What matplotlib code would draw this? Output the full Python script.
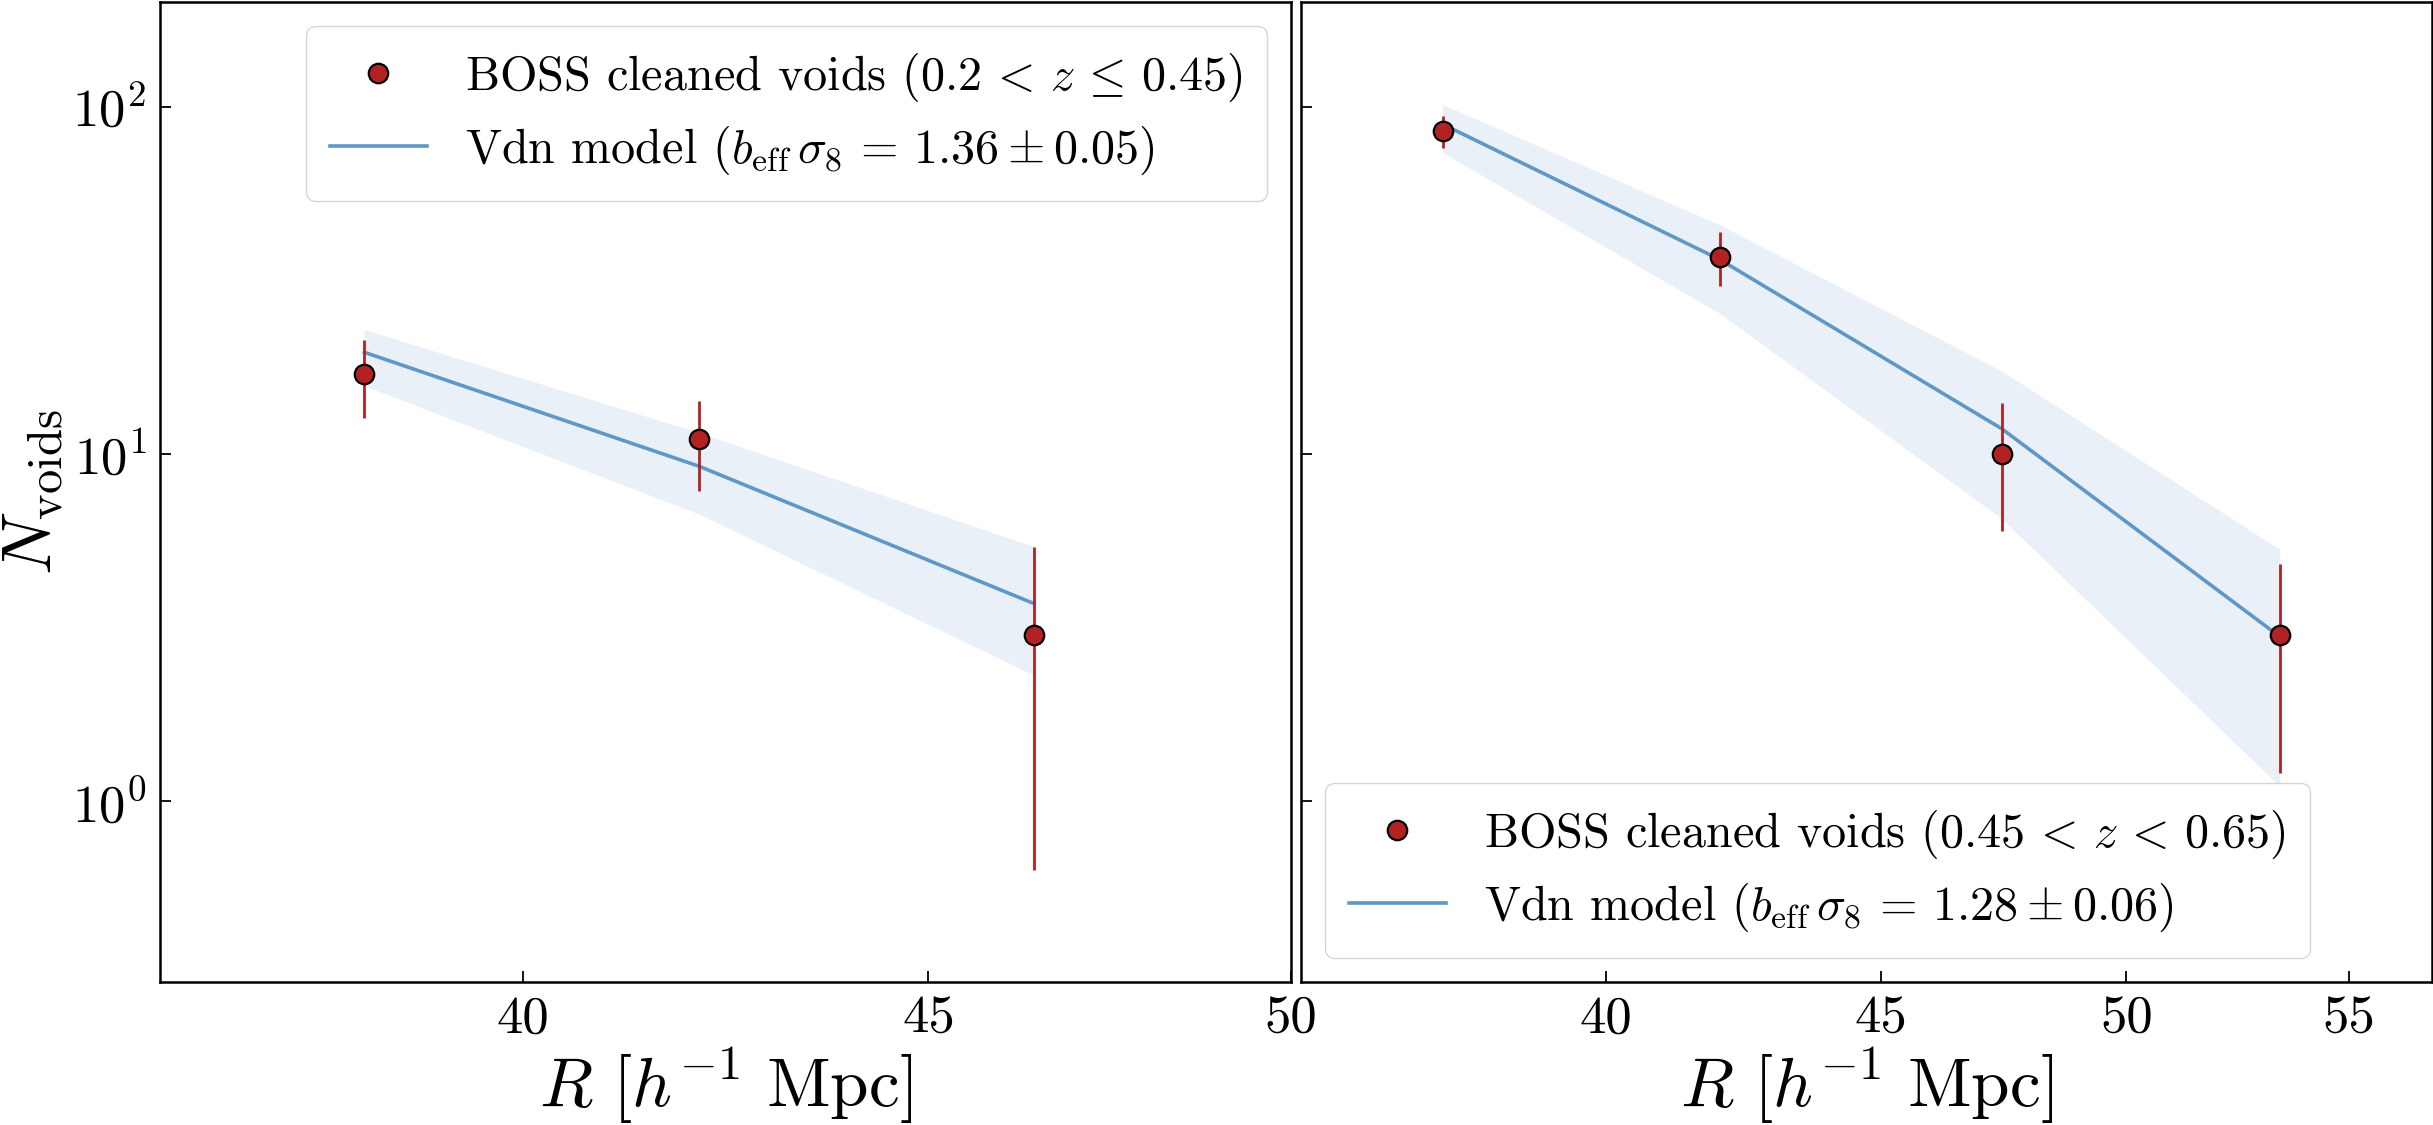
import matplotlib
matplotlib.use("Agg")
import matplotlib.pyplot as plt
from matplotlib.lines import Line2D
from matplotlib.ticker import FixedLocator, FixedFormatter, NullLocator

plt.rcParams['font.family'] = 'serif'
plt.rcParams['font.serif'] = ['cmr10']
plt.rcParams['mathtext.fontset'] = 'cm'
plt.rcParams['axes.formatter.use_mathtext'] = True
plt.rcParams['axes.unicode_minus'] = False

# low-z bin (0.2 < z <= 0.45)
r_low = [38.2, 42.1, 46.4]
n_low = [17, 11, 3]
err_low = [4.3, 3.2, 2.37]
model_low = [19.6, 9.2, 3.7]
model_low_lo = [15.7, 6.7, 2.3]
model_low_hi = [22.8, 11.5, 5.4]

# high-z bin (0.45 < z < 0.65)
r_high = [37.3, 42.0, 47.4, 53.4]
n_high = [85, 37, 10, 3]
err_high = [9.2, 6.5, 4.0, 1.8]
model_high = [89.0, 36.3, 11.8, 2.97]
model_high_lo = [73.7, 25.4, 6.5, 1.1]
model_high_hi = [101.5, 45.7, 17.3, 5.3]

labels_data = [r"BOSS cleaned voids $(0.2\,<\,z\,\leq\,0.45)$",
               r"BOSS cleaned voids $(0.45\,<\,z\,<\,0.65)$"]
labels_model = [r"Vdn model $(b_{\rm eff}\,\sigma_8\,=\,1.36 \pm 0.05)$",
                r"Vdn model $(b_{\rm eff}\,\sigma_8\,=\,1.28 \pm 0.06)$"]
xticks_low = [40, 45, 50]
xticks_high = [40, 45, 50, 55]

line_col = '#5f98c6'
band_col = '#eaf0f7'
pt_col = '#b22222'

fig = plt.figure(figsize=(24.33, 11.25), dpi=100)
ax1 = fig.add_axes([0.0658, 0.127, 0.4649, 0.871])
ax2 = fig.add_axes([0.5347, 0.127, 0.4649, 0.871], sharey=ax1)


def draw_panel(ax, r, n, err, mod, lo, hi, lab_d, lab_m, ticks, xlim, loc):
    ax.fill_between(r, lo, hi, color=band_col, lw=0)
    ax.plot(r, mod, color=line_col, lw=2.6)
    ax.errorbar(r, n, yerr=err, fmt='o', ms=14, mfc=pt_col, mec='k', mew=1.6,
                ecolor=pt_col, elinewidth=2, capsize=0, zorder=5)
    ax.set_xscale('log')
    ax.set_yscale('log')
    ax.set_xlim(*xlim)
    ax.xaxis.set_major_locator(FixedLocator(ticks))
    ax.xaxis.set_major_formatter(FixedFormatter([str(t) for t in ticks]))
    ax.xaxis.set_minor_locator(NullLocator())
    ax.yaxis.set_minor_locator(NullLocator())
    ax.tick_params(which='major', direction='in', length=8, width=1.3,
                   labelsize=38, pad=10)
    for s in ax.spines.values():
        s.set_linewidth(1.8)
    ax.set_xlabel(r"$R\ [h^{-1}\ \mathrm{Mpc}]$", fontsize=50, labelpad=2)
    handles = [Line2D([], [], ls='none', marker='o', ms=14, mfc=pt_col,
                      mec='k', mew=1.6),
               Line2D([], [], color=line_col, lw=2.6)]
    ax.legend(handles, [lab_d, lab_m], loc=loc, fontsize=34.7, borderpad=0.5,
              labelspacing=0.42, borderaxespad=0.5)


draw_panel(ax1, r_low, n_low, err_low, model_low, model_low_lo, model_low_hi,
           labels_data[0], labels_model[0], xticks_low, (36, 50), 'upper right')
draw_panel(ax2, r_high, n_high, err_high, model_high, model_high_lo, model_high_hi,
           labels_data[1], labels_model[1], xticks_high, (35.1, 57), 'lower left')

ax1.set_ylim(0.3, 200)
ax1.set_ylabel(r"$N_{\rm voids}$", fontsize=50)
ax2.tick_params(labelleft=False)

fig.savefig('out.png', dpi=100)
